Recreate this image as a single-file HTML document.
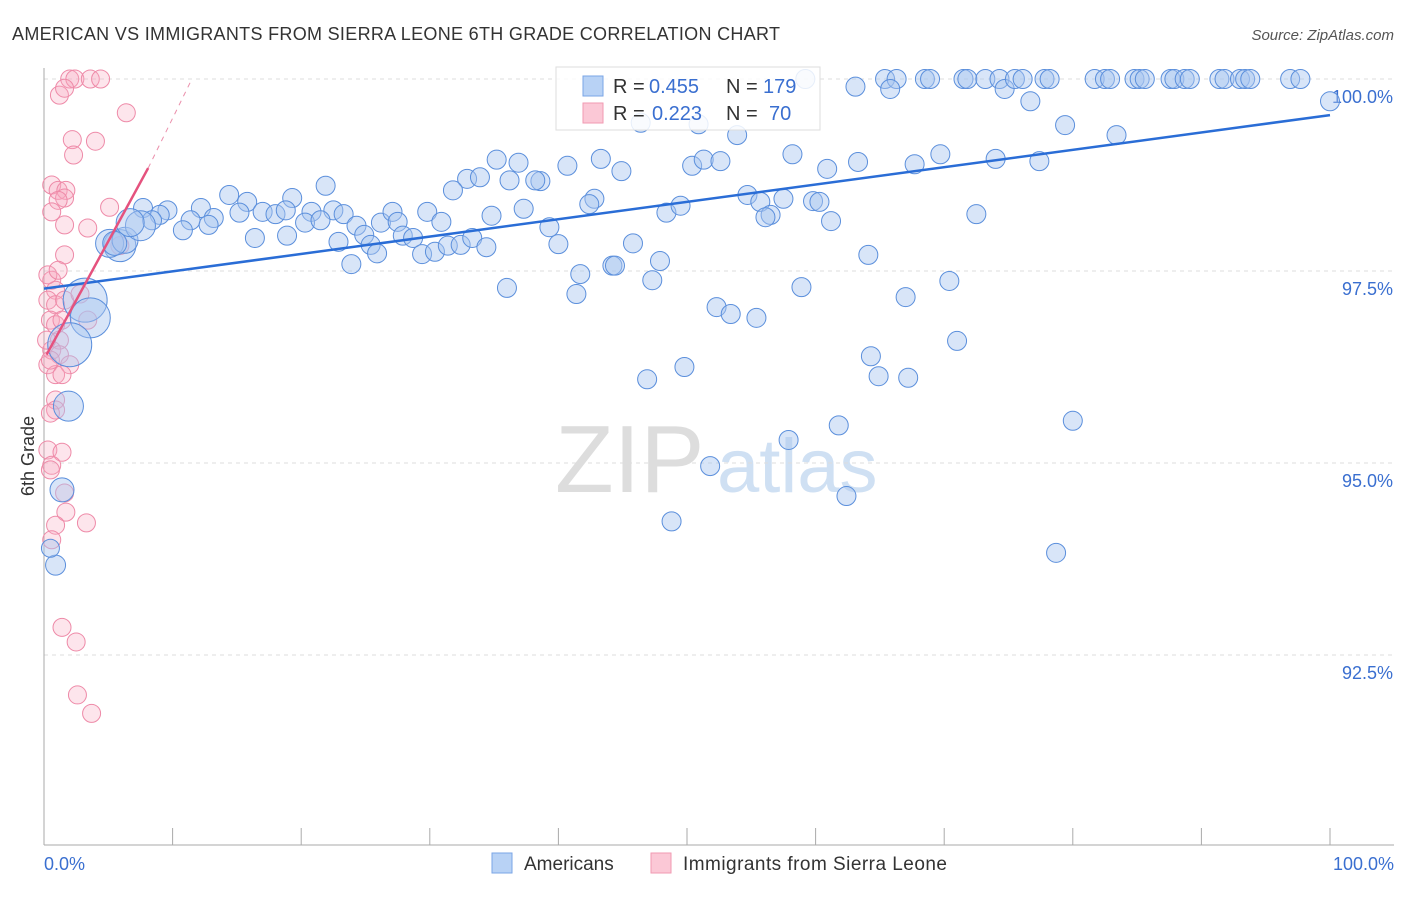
<!DOCTYPE html>
<html><head><meta charset="utf-8"><style>
body{margin:0;background:#fff;font-family:"Liberation Sans",sans-serif;}
svg text{font-family:"Liberation Sans",sans-serif;}
</style></head><body>
<svg id="chart" width="1406" height="892" viewBox="0 0 1406 892">
<text x="12" y="40" font-size="18" fill="#333" textLength="768">AMERICAN VS IMMIGRANTS FROM SIERRA LEONE 6TH GRADE CORRELATION CHART</text>
<text x="1394" y="40" font-size="15" fill="#555" font-style="italic" text-anchor="end">Source: ZipAtlas.com</text>
<g><text x="555" y="492" font-size="96" font-family="Liberation Serif" fill="#ddd">ZIP</text><text x="717" y="492" font-size="76" fill="#cfe0f3">atlas</text></g>
<g id="grid"></g>
<line x1="44" y1="68" x2="44" y2="845" stroke="#aaa"/>
<line x1="44" y1="845" x2="1394" y2="845" stroke="#aaa"/>
<g id="xticks"></g>
<text x="44" y="870" font-size="18" fill="#3a6fd0">0.0%</text>
<text x="1394" y="870" font-size="18" fill="#3a6fd0" text-anchor="end">100.0%</text>
<text transform="translate(34,456) rotate(-90)" font-size="18" fill="#333" text-anchor="middle">6th Grade</text>
<g id="pts"></g>
<g id="trend"></g>
<g>
<rect x="556" y="67" width="264" height="63" fill="#fff" fill-opacity="0.85" stroke="#ddd"/>
<rect x="583" y="76" width="20" height="20" fill="#b8d2f5" stroke="#7aa5e6"/>
<rect x="583" y="103" width="20" height="20" fill="#fbc8d6" stroke="#f09ab2"/>
<text x="613" y="93" font-size="20" fill="#333">R =</text>
<text x="649" y="93" font-size="20" fill="#3a6fd0">0.455</text>
<text x="726" y="93" font-size="20" fill="#333">N =</text>
<text x="763" y="93" font-size="20" fill="#3a6fd0">179</text>
<text x="613" y="120" font-size="20" fill="#333">R =</text>
<text x="652" y="120" font-size="20" fill="#3a6fd0">0.223</text>
<text x="726" y="120" font-size="20" fill="#333">N =</text>
<text x="769" y="120" font-size="20" fill="#3a6fd0">70</text>
</g>
<g>
<rect x="492" y="853" width="20" height="20" fill="#b8d2f5" stroke="#7aa5e6"/>
<text x="524" y="870" font-size="19" fill="#333">Americans</text>
<rect x="651" y="853" width="20" height="20" fill="#fbc8d6" stroke="#f09ab2"/>
<text x="683" y="870" font-size="19" fill="#333" textLength="264">Immigrants from Sierra Leone</text>
</g>
</svg>
<script>
const yTicks=[100,97.5,95,92.5];
const yTickLabels=["100.0%","97.5%","95.0%","92.5%"];
const xTickVals=[0,10,20,30,40,50,60,70,80,90,100];
const blueX=[59.2,63.1,65.4,66.3,65.8,68.5,68.9,71.5,71.8,73.2,74.3,74.7,75.5,76.1,76.7,77.8,78.2,81.7,82.5,82.9,84.8,85.2,85.6,87.6,87.9,88.7,89.1,91.4,91.8,93.0,93.4,93.8,96.9,97.7,100,
46.4,50.9,53.9,79.4,83.4,35.2,36.9,43.3,40.7,44.9,50.4,51.3,52.6,58.2,60.9,63.3,67.7,69.7,74.0,77.4,21.9,32.9,33.9,31.8,36.2,38.6,38.2,42.8,42.4,54.7,55.7,57.5,59.8,60.3,56.5,56.1,61.2,48.4,49.5,37.3,34.8,39.3,72.5,14.4,15.8,19.3,12.2,9.6,7.7,9.0,11.4,13.2,15.2,17.0,18.0,18.8,20.8,22.5,23.3,24.3,26.2,27.1,27.5,29.8,30.9,12.8,10.8,8.4,20.3,21.5,16.4,18.9,22.9,24.9,25.4,25.9,27.9,28.7,29.4,30.4,31.4,32.4,33.3,34.4,40.0,45.8,23.9,41.7,36.0,41.4,44.2,44.4,47.9,47.3,64.1,70.4,58.9,52.3,53.4,55.4,67.0,71.0,64.3,64.9,67.2,46.9,49.8,80.0,61.8,57.9,51.8,62.4,48.8,78.7,
5.9,5.1,6.3,7.5,6.7,3.2,3.6,2.0,1.9,1.4,0.9,0.5,5.5];
const blueY=[100,99.9,100,100,99.87,100,100,100,100,100,100,99.87,100,100,99.71,100,100,100,100,100,100,100,100,100,100,100,100,100,100,100,100,100,100,100,99.71,
99.43,99.41,99.27,99.4,99.27,98.95,98.91,98.96,98.87,98.8,98.87,98.95,98.93,99.02,98.83,98.92,98.89,99.02,98.96,98.93,98.61,98.7,98.72,98.55,98.68,98.67,98.68,98.44,98.37,98.49,98.4,98.44,98.41,98.4,98.23,98.2,98.15,98.26,98.35,98.31,98.22,98.07,98.24,98.49,98.4,98.45,98.32,98.29,98.32,98.23,98.16,98.19,98.26,98.27,98.24,98.29,98.27,98.29,98.24,98.09,98.13,98.27,98.14,98.27,98.14,98.1,98.03,98.16,98.13,98.16,97.93,97.96,97.88,97.97,97.84,97.73,97.96,97.93,97.72,97.75,97.83,97.84,97.93,97.81,97.85,97.86,97.59,97.46,97.28,97.2,97.57,97.57,97.63,97.38,97.71,97.37,97.29,97.03,96.94,96.89,97.16,96.59,96.39,96.13,96.11,96.09,96.25,95.55,95.49,95.3,94.96,94.57,94.24,93.83,
97.83,97.86,97.9,98.09,98.13,97.12,96.89,96.54,95.74,94.65,93.67,93.89,97.86];
const pinkX=[2.0,2.4,3.6,4.4,1.2,1.6,6.4,2.2,2.3,4.0,0.6,1.1,1.7,1.6,1.1,5.1,0.6,1.6,3.4,1.6,0.6,0.9,0.3,0.9,1.6,2.8,3.4,0.5,0.9,1.4,1.2,0.6,1.2,2.0,0.3,0.9,1.4,0.9,0.9,0.5,0.3,1.4,0.6,0.5,1.6,1.7,0.9,3.3,0.6,1.4,2.5,2.6,3.7,5.9,0.3,1.1,0.2,0.5];
const pinkY=[100,100,100,100,99.79,99.88,99.56,99.21,99.01,99.19,98.62,98.55,98.55,98.45,98.42,98.33,98.27,98.1,98.06,97.71,97.38,97.25,97.12,97.06,97.12,97.2,96.86,96.86,96.8,96.86,96.6,96.47,96.41,96.28,96.28,96.15,96.15,95.82,95.69,95.65,95.17,95.14,94.97,94.91,94.61,94.36,94.19,94.22,94.0,92.86,92.67,91.98,91.74,97.83,97.45,97.51,96.6,96.34];
const blueTrend=[[0,97.27],[100,99.53]];
const pinkTrend=[[0.2,96.41],[8.1,98.84]];
const pinkDash=[[8.1,98.84],[11.5,100]];
const NS="http://www.w3.org/2000/svg";
const sx=v=>44+v*12.86, sy=v=>79+(100-v)*76.8;
function mk(t,a,p){const e=document.createElementNS(NS,t);for(const k in a)e.setAttribute(k,a[k]);p.appendChild(e);return e;}
const grid=document.getElementById('grid');
yTicks.forEach((t,i)=>{
 const l=mk('line',{x1:44,x2:1394,y1:sy(t),y2:sy(t),stroke:'#ddd','stroke-dasharray':'4,4'},grid);
 
 
 const tx=mk('text',{x:1393,y:sy(t)+24,'font-size':18,fill:'#3a6fd0','text-anchor':'end'},grid);
 tx.textContent=yTickLabels[i];
 
 
});
const xt=document.getElementById('xticks');
xTickVals.forEach(v=>{
 const l=mk('line',{x1:sx(v),x2:sx(v),y1:828,y2:845,stroke:'#aaa'},xt);
 
 
});
const pts=document.getElementById('pts');
pinkX.forEach((x,i)=>{
 const c=mk('circle',{cx:sx(x),cy:sy(pinkY[i]),r:9,fill:'#f7a8bf','fill-opacity':0.3,stroke:'#ee8aa8','stroke-width':1},pts);
 
 
});
const bigR=[16,14,13,15,14,22,20,22,15,12,10,9,12];
blueX.forEach((x,i)=>{
 const n=blueX.length-13; const r=i>=n?bigR[i-n]:9.5;
 const c=mk('circle',{cx:sx(x),cy:sy(blueY[i]),r:r,fill:'#a9c6f0','fill-opacity':0.45,stroke:'#5b8fdc','stroke-width':1},pts);
 
 
});
const tr=document.getElementById('trend');
let l1=mk('line',{x1:sx(blueTrend[0][0]),y1:sy(blueTrend[0][1]),x2:sx(blueTrend[1][0]),y2:sy(blueTrend[1][1]),stroke:'#2a6dd6','stroke-width':2.5},tr);


let l2=mk('line',{x1:sx(pinkTrend[0][0]),y1:sy(pinkTrend[0][1]),x2:sx(pinkTrend[1][0]),y2:sy(pinkTrend[1][1]),stroke:'#e5527e','stroke-width':2.5},tr);


let l3=mk('line',{x1:sx(pinkDash[0][0]),y1:sy(pinkDash[0][1]),x2:sx(pinkDash[1][0]),y2:sy(pinkDash[1][1]),stroke:'#eb8fab','stroke-width':1,'stroke-dasharray':'5,5'},tr);


</script>
</body></html>
